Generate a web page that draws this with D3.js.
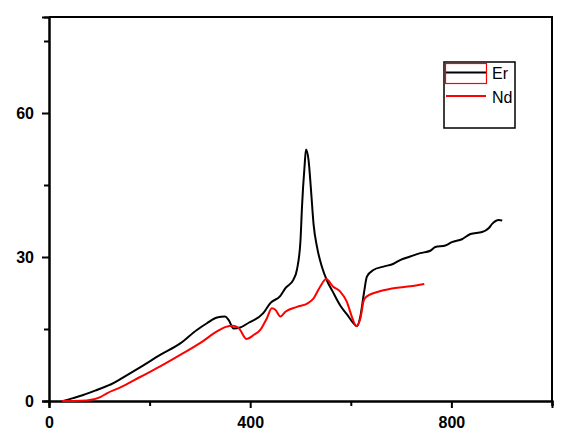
<!DOCTYPE html>
<html>
<head>
<meta charset="utf-8">
<script src="https://cdn.jsdelivr.net/npm/d3@7"></script>
<style>
  body { margin: 0; background: #fff; }
  svg { display: block; }
</style>
</head>
<body>
<div id="chart"></div>
<script>
const width = 578;
const height = 437;

// Er curve (black)
const erX = [28, 48, 68, 95, 128, 141, 181, 221, 261, 294, 314, 334, 350, 357, 367, 380, 397,
  426, 440, 460, 470, 486, 493, 500, 503, 508, 511, 516, 521, 526, 533, 543, 553, 563,
  579, 592, 609, 612, 619, 626, 632, 645, 665, 685, 699, 718, 738, 758,
  768, 788, 801, 821, 838, 861, 874, 881, 894, 901];
const erY = [0, 0.6, 1.25, 2.3, 3.7, 4.5, 7.0, 9.6, 12.0, 14.8, 16.2, 17.4, 17.6, 16.9, 15.1, 15.3, 16.3,
  18.3, 20.4, 21.9, 23.5, 25.3, 27.4, 33.5, 40.5, 48.8, 52.4, 50.2, 43.8, 36.8, 32.0, 27.8, 25.0, 23.0,
  19.9, 18.1, 15.8, 15.6, 17.6, 22.4, 25.9, 27.3, 28.0, 28.6, 29.4, 30.1, 30.8, 31.3,
  32.1, 32.4, 33.1, 33.7, 34.8, 35.2, 36.0, 36.9, 37.7, 37.6];

// Nd curve (red)
const ndX = [26, 50, 75, 102, 115, 141, 181, 221, 261, 301, 334, 350, 367, 377, 393, 407,
  420, 433, 443, 450, 460, 470, 493, 515, 526, 539, 551, 565, 579, 592, 602, 611,
  619, 626, 632, 659, 692, 718, 746];
const ndY = [0, 0, 0.1, 0.8, 1.6, 2.8, 5.0, 7.2, 9.6, 12.1, 14.5, 15.4, 15.7, 15.2, 12.9, 13.75,
  14.8, 17.2, 19.3, 19.0, 17.6, 18.6, 19.6, 20.4, 21.4, 23.8, 25.4, 23.8, 22.8, 20.7, 17.6, 15.6,
  17.2, 21.0, 21.8, 22.9, 23.6, 23.9, 24.4];

const xMajor = [0, 400, 800];
const xMinor = [200, 600, 1000];
const yMajor = [0, 30, 60];
const yMinor = [15, 45, 75];

const margin = { left: 49, right: 26, top: 17, bottom: 36 };

const svg = d3.select("#chart")
  .append("svg")
  .attr("width", width)
  .attr("height", height);

const x = d3.scaleLinear()
  .domain([0, 1000])
  .range([margin.left, width - margin.right]);

const y = d3.scaleLinear()
  .domain([0, 80])
  .range([height - margin.bottom, margin.top]);

// frame (top and right)
svg.append("path")
  .attr("d", `M${x(0)},${y(80)}H${x(1000)}V${y(0)}`)
  .attr("fill", "none")
  .attr("stroke", "#000")
  .attr("stroke-width", 2);

function styleAxis(g) {
  g.select(".domain").attr("stroke-width", 2);
  g.selectAll(".tick line").attr("stroke-width", 2);
  g.selectAll("text")
    .style("font-family", "Arial, 'Liberation Sans', sans-serif")
    .style("font-size", "16px")
    .style("font-weight", "bold")
    .attr("fill", "#000");
}

// x axis
svg.append("g")
  .attr("transform", `translate(0,${y(0)})`)
  .call(d3.axisBottom(x).tickValues(xMinor).tickSize(5).tickFormat(""))
  .call(styleAxis);

svg.append("g")
  .attr("transform", `translate(0,${y(0)})`)
  .call(d3.axisBottom(x).tickValues(xMajor).tickSize(7).tickPadding(9).tickFormat(d3.format("d")))
  .call(styleAxis);

// y axis
svg.append("g")
  .attr("transform", `translate(${x(0)},0)`)
  .call(d3.axisLeft(y).tickValues(yMinor).tickSize(5).tickFormat(""))
  .call(styleAxis);

svg.append("g")
  .attr("transform", `translate(${x(0)},0)`)
  .call(d3.axisLeft(y).tickValues(yMajor).tickSize(7).tickPadding(8).tickFormat(d3.format("d")))
  .call(styleAxis);

const line = d3.line()
  .curve(d3.curveMonotoneX)
  .x(d => x(d[0]))
  .y(d => y(d[1]));

svg.append("path")
  .datum(d3.zip(erX, erY))
  .attr("d", line)
  .attr("fill", "none")
  .attr("stroke", "#000")
  .attr("stroke-width", 2)
  .attr("stroke-linejoin", "round");

svg.append("path")
  .datum(d3.zip(ndX, ndY))
  .attr("d", line)
  .attr("fill", "none")
  .attr("stroke", "#ff0000")
  .attr("stroke-width", 2)
  .attr("stroke-linejoin", "round");

// legend
const legend = svg.append("g").attr("transform", "translate(444,62)");

legend.append("rect")
  .attr("x", 0)
  .attr("y", 0)
  .attr("width", 71)
  .attr("height", 66)
  .attr("fill", "#fff")
  .attr("stroke", "#000")
  .attr("stroke-width", 1.5);

legend.append("line")
  .attr("x1", 2).attr("x2", 42)
  .attr("y1", 10.5).attr("y2", 10.5)
  .attr("stroke", "#000")
  .attr("stroke-width", 2);

legend.append("rect")
  .attr("x", 1.5)
  .attr("y", 1.5)
  .attr("width", 41)
  .attr("height", 20)
  .attr("fill", "none")
  .attr("stroke", "#ff0000")
  .attr("stroke-width", 1.2);

legend.append("line")
  .attr("x1", 2).attr("x2", 42)
  .attr("y1", 34).attr("y2", 34)
  .attr("stroke", "#ff0000")
  .attr("stroke-width", 2);

legend.selectAll("text.lab")
  .data(["Er", "Nd"])
  .enter()
  .append("text")
  .attr("class", "lab")
  .attr("x", 48)
  .attr("y", (d, i) => 17 + i * 24)
  .style("font-family", "Arial, 'Liberation Sans', sans-serif")
  .style("font-size", "16px")
  .attr("fill", "#000")
  .text(d => d);
</script>
</body>
</html>
